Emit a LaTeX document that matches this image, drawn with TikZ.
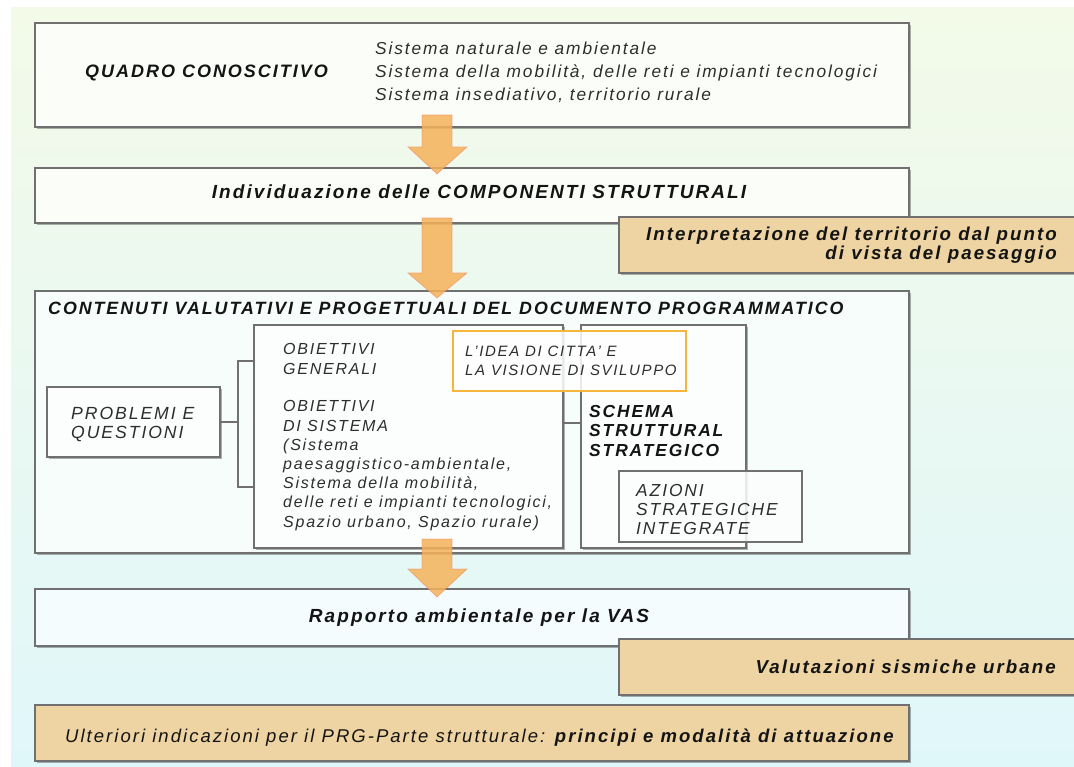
\documentclass[tikz,border=0pt]{standalone}
\usepackage{fontspec}
\setmainfont{Liberation Sans}[LetterSpace=11]
\usetikzlibrary{fit,shadows}
\definecolor{bgtop}{RGB}{243,250,232}
\definecolor{bgbot}{RGB}{224,247,250}
\colorlet{bgmid}{bgtop!50!bgbot}
\definecolor{boxline}{RGB}{112,112,112}
\definecolor{tanfill}{RGB}{238,212,162}
\definecolor{arrowfill}{RGB}{245,178,90}
\definecolor{arrowline}{RGB}{240,120,90}
\definecolor{ideaorange}{RGB}{245,182,60}
\definecolor{txt}{RGB}{20,20,20}
\definecolor{txtl}{RGB}{45,45,45}
\newcommand{\blockarrow}[3]{%
  \path[blockarr] (422,#1) -- (452,#1) -- (452,#2) -- (467,#2) -- (437,#3) -- (408,#2) -- (422,#2) -- cycle;}
\begin{document}
\begin{tikzpicture}[x=1pt,y=-1pt,
  box/.style={draw=boxline, line width=1.3pt, inner sep=0pt, outer sep=0pt,
    drop shadow={shadow xshift=1.6pt, shadow yshift=-1.8pt, fill=black, opacity=0.3}},
  tanbox/.style={box, fill=tanfill},
  tl/.style={inner sep=0pt, anchor=base west, text=txtl, font=\itshape\fontsize{16}{19.2}\selectfont},
  tb/.style={inner sep=0pt, anchor=base west, text=txt, font=\bfseries\itshape\fontsize{19}{20}\selectfont},
  blockarr/.style={fill=arrowfill, fill opacity=0.85, draw=arrowline, draw opacity=0.45, line width=0.8pt, line join=miter},
  link/.style={draw=boxline, line width=1.3pt}]
\useasboundingbox (0,0) rectangle (1074,767);
\clip (0,0) rectangle (1074,767);
\shade[top color=bgtop, bottom color=bgbot] (11,8) rectangle (1080,770);

% top boxes
\node[box, fill=white!70!bgtop, fit={(35,23) (909,127)}] (quadro) {};
\node[tb, font=\bfseries\itshape\fontsize{18}{20}\selectfont] (quadrot) at (85,78) {QUADRO CONOSCITIVO};
\node[tl, font=\itshape\fontsize{17.3}{23}\selectfont, align=left] (quadrol) at (375,101)
  {Sistema naturale e ambientale\\Sistema della mobilità, delle reti e impianti tecnologici\\Sistema insediativo, territorio rurale};

\node[box, fill=white!70!bgtop, fit={(35,168) (909,223)}] (comp) {};
\node[tb, anchor=base] (compt) at (479,199) {Individuazione delle COMPONENTI STRUTTURALI};

\node[tanbox, fit={(619,217) (1090,273)}] (interp) {};
\node[tb, anchor=base east, align=right, font=\bfseries\itshape\fontsize{18.7}{19}\selectfont] (interpt) at (1057,260)
  {Interpretazione del territorio dal punto\\di vista del paesaggio};

% main content box
\node[box, fill=white!65!bgmid, fit={(35,291) (909,553)}] (cont) {};
\node[tb, font=\bfseries\itshape\fontsize{17.8}{20}\selectfont] (contt) at (48,315) {CONTENUTI VALUTATIVI E PROGETTUALI DEL DOCUMENTO PROGRAMMATICO};

\node[box, fill=white!80!bgmid, fit={(47,387) (220,457)}] (probl) {};
\node[tl, align=left, font=\itshape\fontsize{17.6}{19}\selectfont] (problt) at (71,438) {PROBLEMI E\\QUESTIONI};

\node[box, fill=white!80!bgmid, fit={(581,325) (746,548)}] (schema) {};
\node[box, fill=white!80!bgmid, fit={(254,325) (563,548)}] (obj) {};
\node[tl, align=left] (objg) at (283,374) {OBIETTIVI\\GENERALI};
\node[tl, align=left] (objs) at (283,527) {OBIETTIVI\\DI SISTEMA\\(Sistema\\paesaggistico-ambientale,\\Sistema della mobilità,\\delle reti e impianti tecnologici,\\Spazio urbano, Spazio rurale)};

\node[tb, align=left, font=\bfseries\itshape\fontsize{17.4}{19.5}\selectfont] (schemat) at (589,456) {SCHEMA\\STRUTTURAL\\STRATEGICO};

\node[draw=boxline, line width=1.3pt, inner sep=0pt, fill=white!85!bgmid, fill opacity=0.85, fit={(619,471) (802,542)}] (azioni) {};
\node[tl, align=left, font=\itshape\fontsize{17.4}{19}\selectfont] (azionit) at (636,534) {AZIONI\\STRATEGICHE\\INTEGRATE};

\node[draw=ideaorange, line width=1.8pt, inner sep=0pt, fill=white, fill opacity=0.85, fit={(453,331) (686,391)}] (idea) {};
\node[tl, align=left, font=\itshape\fontsize{15}{19}\selectfont] (ideat) at (465,376) {L'IDEA DI CITTA' E\\LA VISIONE DI SVILUPPO};

% bracket and links
\coordinate (bm) at (238,422);
\coordinate (bt) at (238,361);
\coordinate (bb) at (238,487);
\draw[link] (probl.east) -- (bm);
\draw[link] (obj.west |- bt) -- (bt) -- (bb) -- (obj.west |- bb);
\draw[link] (obj.east |- 0,423) -- (schema.west |- 0,423);

% lower boxes
\node[box, fill=white!65!bgbot, fit={(35,589) (909,646)}] (vas) {};
\node[tb, anchor=base] (vast) at (479,622) {Rapporto ambientale per la VAS};

\node[tanbox, fit={(619,639) (1090,695)}] (sism) {};
\node[tb, anchor=base east, font=\bfseries\itshape\fontsize{18.7}{20}\selectfont] (sismt) at (1056,673) {Valutazioni sismiche urbane};

\node[tanbox, fit={(35,705) (909,761)}] (prg) {};
\node[tl, font=\itshape\fontsize{18.5}{20}\selectfont, text=txt] (prgt) at (65,742) {Ulteriori indicazioni per il PRG-Parte strutturale: \textbf{principi e modalità di attuazione}};

% block arrows
\blockarrow{115}{147}{174}
\blockarrow{218}{273}{298}
\blockarrow{539}{569}{597}
\end{tikzpicture}
\end{document}
